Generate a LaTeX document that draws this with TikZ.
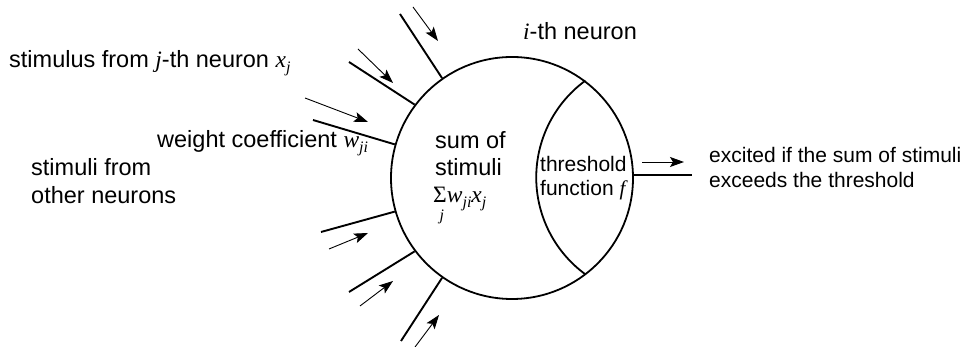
\documentclass[tikz,border=0pt]{standalone}
\usepackage{fontspec}
\setmainfont{Liberation Sans}
\newfontfamily\tms{Liberation Serif}
\usetikzlibrary{arrows.meta}
\newcommand{\iv}[1]{{\tms\itshape #1}}
\newcommand{\sbs}[1]{\raisebox{-0.35ex}{\fontsize{16}{16}\selectfont\tms\itshape #1}}
\begin{document}
\begin{tikzpicture}[x=1pt,y=1pt,
  syn/.style={line width=1.9pt},
  stim/.style={line width=0.9pt,-{Stealth[length=14pt,width=10pt,inset=3pt]}},
  lbl/.style={anchor=base west,inner sep=0pt,font=\fontsize{23.5}{27}\selectfont},
  sml/.style={anchor=base west,inner sep=0pt,font=\fontsize{21}{24}\selectfont}]
\useasboundingbox (0,0) rectangle (967,347);
\node[circle,draw,line width=1.8pt,minimum size=242pt,inner sep=0pt] (neuron) at (512,169) {};
% threshold arc
\draw[line width=1.8pt] (neuron.53.8) arc[start angle=126.2,end angle=233.8,radius=120];
% synapses
\coordinate (s1) at (400,333);
\coordinate (s2) at (349,285);
\coordinate (s3) at (313,227);
\coordinate (s4) at (321,115);
\coordinate (s5) at (349,55);
\coordinate (s6) at (401,6);
\draw[syn] (s1) -- (neuron.125);
\draw[syn] (s2) -- (neuron.143);
\draw[syn] (s3) -- (neuron.164);
\draw[syn] (s4) -- (neuron.196);
\draw[syn] (s5) -- (neuron.217);
\draw[syn] (s6) -- (neuron.235);
% stimulus arrows
\coordinate (a1s) at (413,340); \coordinate (a1e) at (438,306);
\coordinate (a2s) at (358,298); \coordinate (a2e) at (393,264);
\coordinate (a3s) at (305,249); \coordinate (a3e) at (368,225);
\coordinate (a4s) at (329,98);  \coordinate (a4e) at (368,114);
\coordinate (a5s) at (360,41);  \coordinate (a5e) at (393,66);
\coordinate (a6s) at (415,0);   \coordinate (a6e) at (439,32);
\draw[stim] (a1s) -- (a1e);
\draw[stim] (a2s) -- (a2e);
\draw[stim] (a3s) -- (a3e);
\draw[stim] (a4s) -- (a4e);
\draw[stim] (a5s) -- (a5e);
\draw[stim] (a6s) -- (a6e);
% output
\coordinate (out) at (692,172);
\draw[syn] (neuron.east |- out) -- (out);
\coordinate (o1) at (642,185); \coordinate (o2) at (684,185);
\draw[stim] (o1) -- (o2);
% texts
\node[lbl] (t1) at (9,279) {stimulus from \iv{j}-th neuron \iv{x}\sbs{j}};
\node[lbl] (t2) at (157,199) {weight coefficient \iv{w}\sbs{ji}};
\node[lbl] (t3) at (31,171) {stimuli from};
\node[lbl] (t4) at (31,143) {other neurons};
\node[lbl] (t5) at (523,307) {\iv{i}-th neuron};
\node[lbl] (t6) at (435,198) {sum of};
\node[lbl] (t7) at (435,171) {stimuli};
\node[lbl] (t8) at (433,144) {{\tms Σ}\llap{\raisebox{-0.75em}{\fontsize{16}{16}\selectfont\tms\itshape j}\hspace{0.12em}}\iv{w}\sbs{ji}\iv{x}\sbs{j}};
\node[sml] (t9) at (540,175) {threshold};
\node[sml] (t10) at (540,151) {function \iv{f}};
\node[sml] (t11) at (709,184) {excited if the sum of stimuli};
\node[sml] (t12) at (709,159) {exceeds the threshold};
\end{tikzpicture}
\end{document}
